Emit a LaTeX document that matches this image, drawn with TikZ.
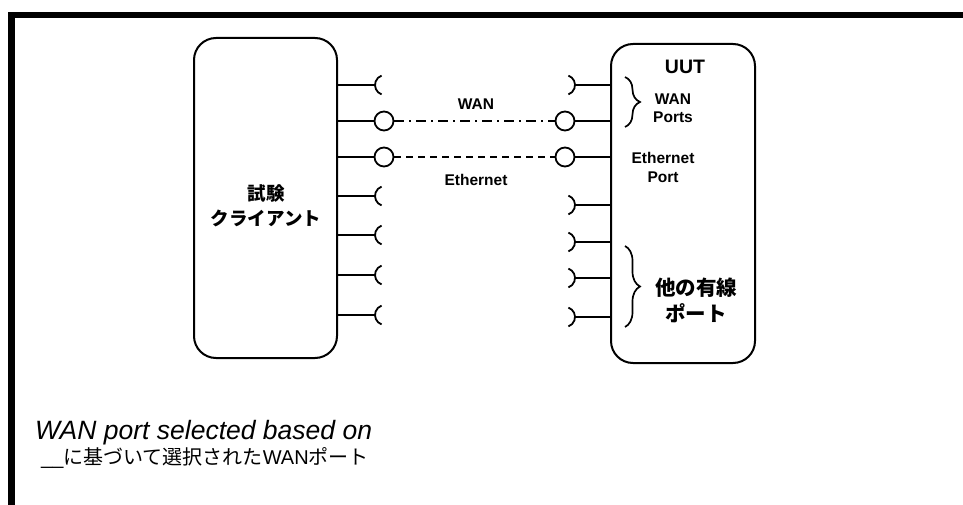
\documentclass[tikz,border=0pt]{standalone}
\usepackage{fontspec}
\setmainfont{Liberation Sans}
\newfontfamily\jpfont{Noto Sans CJK JP}
\usetikzlibrary{positioning,decorations.pathreplacing}

\begin{document}
\begin{tikzpicture}[x=1pt,y=-1pt,
    box/.style={draw,line width=2pt,rounded corners=22pt,inner sep=0pt},
    port/.style={draw,circle,line width=1.8pt,minimum size=19pt,inner sep=0pt,fill=white},
    wire/.style={line width=1.8pt},
    bracket/.style={line width=1.7pt,decorate,decoration={brace,amplitude=15pt,aspect=0.5}},
    lbl/.style={font=\bfseries\fontsize{15.5}{18.5}\selectfont,align=center,inner sep=0pt},
    jplbl/.style={font=\jpfont\bfseries\fontsize{18.5}{25}\selectfont,align=center,inner sep=0pt}]
    \useasboundingbox (0,0) rectangle (963,505);
    % Frame
    \draw[line width=6.6pt] (11.5,505) -- (11.5,15) -- (963,15);
    % Test client
    \node[box,minimum width=143pt,minimum height=320pt] (client) at (265.5,198) {};
    \node[jplbl] (clientname) at (266,205.5) {試験\\クライアント};
    % UUT
    \node[box,minimum width=144pt,minimum height=319pt] (uut) at (683,203.5) {};
    \node[lbl,font=\bfseries\fontsize{19.5}{22}\selectfont] (uutname) at (685,67) {UUT};
    % Open ports on the client
    \foreach \y in {85,196,235,275,315} {
        \draw[wire] (client.east |- 0,\y) -- (375,\y);
        \draw[wire] (385,\y) ++(110:10) arc[start angle=110,end angle=250,radius=10];
    }
    % Open ports on the UUT
    \foreach \y in {85,205,242,278,317} {
        \draw[wire] (uut.west |- 0,\y) -- (575,\y);
        \draw[wire] (565,\y) ++(-70:10) arc[start angle=-70,end angle=70,radius=10];
    }
    % Connected ports
    \node[port] (cwan) at (384,121) {};
    \node[port] (ceth) at (384,157) {};
    \node[port] (uwan) at (565,121) {};
    \node[port] (ueth) at (565,157) {};
    \draw[wire] (client.east |- cwan) -- (cwan);
    \draw[wire] (client.east |- ceth) -- (ceth);
    \draw[wire] (uwan) -- (uut.west |- uwan);
    \draw[wire] (ueth) -- (uut.west |- ueth);
    % Links
    \draw[wire,dash pattern=on 10pt off 5pt on 2pt off 5pt] (cwan) -- (uwan);
    \draw[wire,dash pattern=on 7pt off 5pt] (ceth) -- (ueth);
    \node[lbl] (wanlink) at (476,104) {WAN};
    \node[lbl] (ethlink) at (476,180) {Ethernet};
    % Port groups
    \draw[bracket] (625,77) -- (625,127);
    \node[lbl] (wanports) at (673,108) {WAN\\Ports};
    \node[lbl] (ethport) at (663,167.5) {Ethernet\\Port};
    \draw[bracket] (625,246) -- (625,327);
    \node[jplbl,font=\jpfont\bfseries\fontsize{20.5}{26}\selectfont] (otherports) at (696,300) {他の有線\\ポート};
    % Caption
    \node[anchor=west,inner sep=0pt,font=\itshape\fontsize{26.5}{30}\selectfont] (caption) at (35,433) {WAN port selected based on};
    \node[anchor=west,inner sep=0pt,font=\fontsize{20}{22}\selectfont] (captionjp) at (41,458) {\_\_{\jpfont に基づいて選択された}WAN{\jpfont ポート}};
\end{tikzpicture}
\end{document}
